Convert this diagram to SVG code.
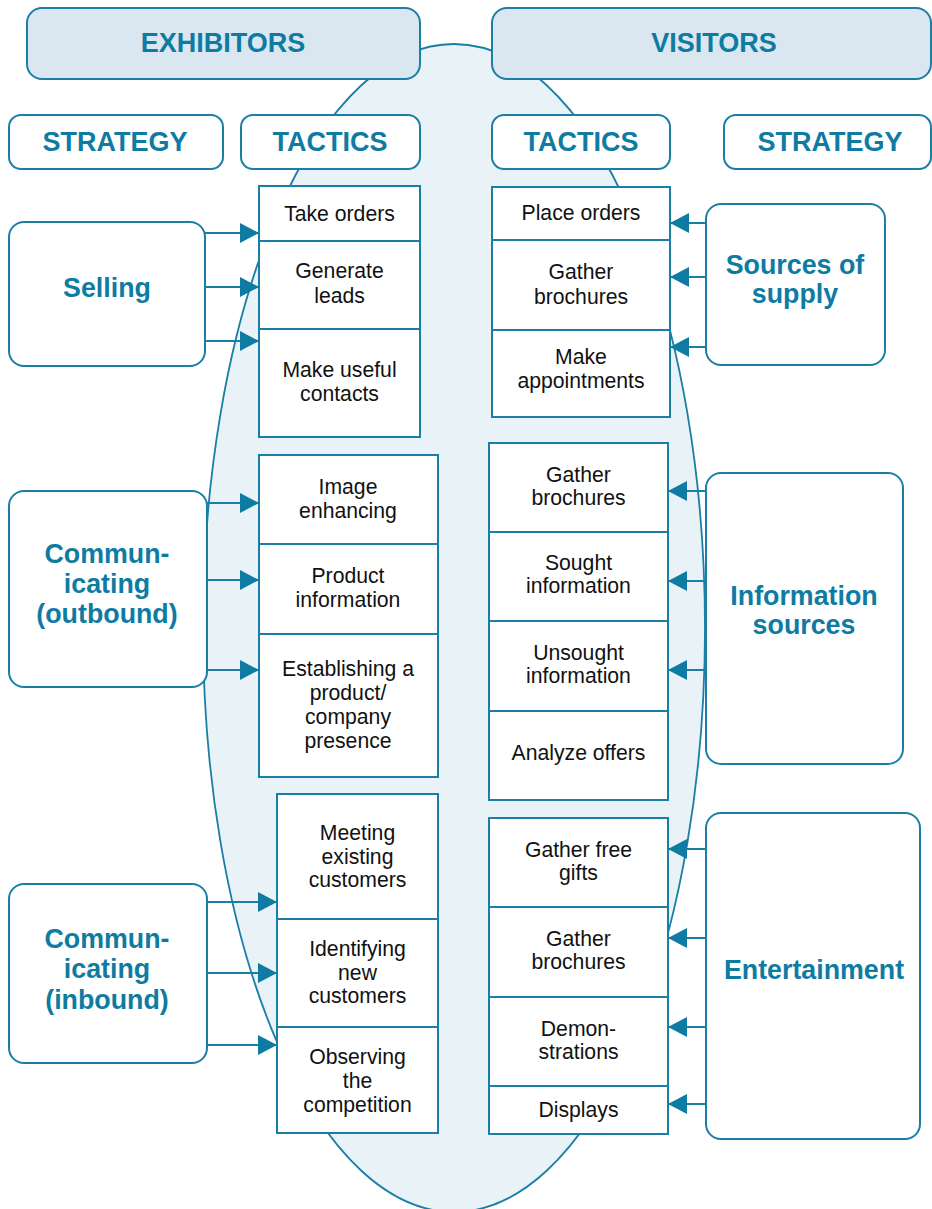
<svg xmlns="http://www.w3.org/2000/svg" width="932" height="1209" viewBox="0 0 932 1209">
<style>
.hdr{fill:#DAE7F0;stroke:#1A7EA6;stroke-width:2}
.box{fill:#fff;stroke:#1A7EA6;stroke-width:2}
.cell{fill:#fff;stroke:#1A7EA6;stroke-width:2}
.ht{font-family:"Liberation Sans",Arial,sans-serif;font-weight:bold;font-size:27px;fill:#0E7BA3;text-anchor:middle}
.st{font-family:"Liberation Sans",Arial,sans-serif;font-weight:bold;font-size:26.8px;fill:#0E7BA3;text-anchor:middle}
.tt{font-family:"Liberation Sans",Arial,sans-serif;font-size:21.2px;fill:#111;text-anchor:middle}
.conn line{stroke:#1A7EA6;stroke-width:2}
</style>
<defs>
<marker id="ah" markerUnits="userSpaceOnUse" markerWidth="21" markerHeight="21" refX="19" refY="10" orient="auto">
<path d="M0,0 L19,10 L0,20 Z" fill="#0E7BA3"/>
</marker>
</defs>
<rect width="932" height="1209" fill="#fff"/>
<ellipse id="oval" cx="454" cy="628" rx="251" ry="584" fill="#E9F2F7" stroke="#1A7EA6" stroke-width="1.8"/>

<g id="exhibitors"><rect class="hdr" x="27" y="8" width="393" height="71" rx="15"/><text class="ht" x="223" y="52">EXHIBITORS</text></g>
<g id="visitors"><rect class="hdr" x="492" y="8" width="439" height="71" rx="15"/><text class="ht" x="714" y="52">VISITORS</text></g>
<g id="strategy-left"><rect class="box" x="9" y="115" width="214" height="54" rx="12"/><text class="ht" x="115" y="151">STRATEGY</text></g>
<g id="tactics-left"><rect class="box" x="241" y="115" width="179" height="54" rx="12"/><text class="ht" x="330" y="151">TACTICS</text></g>
<g id="tactics-right"><rect class="box" x="492" y="115" width="178" height="54" rx="12"/><text class="ht" x="581" y="151">TACTICS</text></g>
<g id="strategy-right"><rect class="box" x="724" y="115" width="207" height="54" rx="12"/><text class="ht" x="830" y="151">STRATEGY</text></g>

<g id="selling"><rect class="box" x="9" y="222" width="196" height="144" rx="15"/><text class="st" x="107" y="297">Selling</text></g>
<g id="comm-out"><rect class="box" x="9" y="491" width="198" height="196" rx="15"/><text class="st"><tspan x="107" y="563">Commun-</tspan><tspan x="107" y="593">icating</tspan><tspan x="107" y="623">(outbound)</tspan></text></g>
<g id="comm-in"><rect class="box" x="9" y="884" width="198" height="179" rx="15"/><text class="st"><tspan x="107" y="948">Commun-</tspan><tspan x="107" y="978">icating</tspan><tspan x="107" y="1009">(inbound)</tspan></text></g>
<g id="sources"><rect class="box" x="706" y="204" width="179" height="161" rx="15"/><text class="st"><tspan x="795" y="274">Sources of</tspan><tspan x="795" y="303">supply</tspan></text></g>
<g id="info"><rect class="box" x="706" y="473" width="197" height="291" rx="15"/><text class="st"><tspan x="804" y="605">Information</tspan><tspan x="804" y="634">sources</tspan></text></g>
<g id="entertainment"><rect class="box" x="706" y="813" width="214" height="326" rx="15"/><text class="st" x="814" y="979">Entertainment</text></g>

<g id="selling-tactics">
<rect class="cell" x="259" y="186" width="161" height="55"/><text class="tt" x="339.5" y="221">Take orders</text>
<rect class="cell" x="259" y="241" width="161" height="88"/><text class="tt"><tspan x="339.5" y="278">Generate</tspan><tspan x="339.5" y="303">leads</tspan></text>
<rect class="cell" x="259" y="329" width="161" height="108"/><text class="tt"><tspan x="339.5" y="377">Make useful</tspan><tspan x="339.5" y="401">contacts</tspan></text>
</g>
<g id="sources-tactics">
<rect class="cell" x="492" y="187" width="178" height="53"/><text class="tt" x="581" y="220">Place orders</text>
<rect class="cell" x="492" y="240" width="178" height="90"/><text class="tt"><tspan x="581" y="279">Gather</tspan><tspan x="581" y="304">brochures</tspan></text>
<rect class="cell" x="492" y="330" width="178" height="87"/><text class="tt"><tspan x="581" y="364">Make</tspan><tspan x="581" y="388">appointments</tspan></text>
</g>
<g id="outbound-tactics">
<rect class="cell" x="259" y="455" width="179" height="89"/><text class="tt"><tspan x="348" y="494">Image</tspan><tspan x="348" y="518">enhancing</tspan></text>
<rect class="cell" x="259" y="544" width="179" height="90"/><text class="tt"><tspan x="348" y="583">Product</tspan><tspan x="348" y="607">information</tspan></text>
<rect class="cell" x="259" y="634" width="179" height="143"/><text class="tt"><tspan x="348" y="676">Establishing a</tspan><tspan x="348" y="700">product/</tspan><tspan x="348" y="724">company</tspan><tspan x="348" y="748">presence</tspan></text>
</g>
<g id="info-tactics">
<rect class="cell" x="489" y="443" width="179" height="89"/><text class="tt"><tspan x="578.5" y="482">Gather</tspan><tspan x="578.5" y="505">brochures</tspan></text>
<rect class="cell" x="489" y="532" width="179" height="89"/><text class="tt"><tspan x="578.5" y="570">Sought</tspan><tspan x="578.5" y="593">information</tspan></text>
<rect class="cell" x="489" y="621" width="179" height="90"/><text class="tt"><tspan x="578.5" y="660">Unsought</tspan><tspan x="578.5" y="683">information</tspan></text>
<rect class="cell" x="489" y="711" width="179" height="89"/><text class="tt" x="578.5" y="760">Analyze offers</text>
</g>
<g id="inbound-tactics">
<rect class="cell" x="277" y="794" width="161" height="125"/><text class="tt"><tspan x="357.5" y="840">Meeting</tspan><tspan x="357.5" y="864">existing</tspan><tspan x="357.5" y="887">customers</tspan></text>
<rect class="cell" x="277" y="919" width="161" height="108"/><text class="tt"><tspan x="357.5" y="956">Identifying</tspan><tspan x="357.5" y="980">new</tspan><tspan x="357.5" y="1003">customers</tspan></text>
<rect class="cell" x="277" y="1027" width="161" height="106"/><text class="tt"><tspan x="357.5" y="1064">Observing</tspan><tspan x="357.5" y="1088">the</tspan><tspan x="357.5" y="1112">competition</tspan></text>
</g>
<g id="entertainment-tactics">
<rect class="cell" x="489" y="818" width="179" height="89"/><text class="tt"><tspan x="578.5" y="857">Gather free</tspan><tspan x="578.5" y="880">gifts</tspan></text>
<rect class="cell" x="489" y="907" width="179" height="90"/><text class="tt"><tspan x="578.5" y="946">Gather</tspan><tspan x="578.5" y="969">brochures</tspan></text>
<rect class="cell" x="489" y="997" width="179" height="89"/><text class="tt"><tspan x="578.5" y="1036">Demon-</tspan><tspan x="578.5" y="1059">strations</tspan></text>
<rect class="cell" x="489" y="1086" width="179" height="48"/><text class="tt" x="578.5" y="1117">Displays</text>
</g>

<g id="connectors" class="conn">
<line x1="205" y1="233" x2="259" y2="233" marker-end="url(#ah)"/>
<line x1="205" y1="287" x2="259" y2="287" marker-end="url(#ah)"/>
<line x1="205" y1="341" x2="259" y2="341" marker-end="url(#ah)"/>
<line x1="207" y1="503" x2="259" y2="503" marker-end="url(#ah)"/>
<line x1="207" y1="580" x2="259" y2="580" marker-end="url(#ah)"/>
<line x1="207" y1="670" x2="259" y2="670" marker-end="url(#ah)"/>
<line x1="207" y1="902" x2="277" y2="902" marker-end="url(#ah)"/>
<line x1="207" y1="973" x2="277" y2="973" marker-end="url(#ah)"/>
<line x1="207" y1="1045" x2="277" y2="1045" marker-end="url(#ah)"/>
<line x1="706" y1="223" x2="670" y2="223" marker-end="url(#ah)"/>
<line x1="706" y1="277" x2="670" y2="277" marker-end="url(#ah)"/>
<line x1="706" y1="347" x2="670" y2="347" marker-end="url(#ah)"/>
<line x1="706" y1="491" x2="668" y2="491" marker-end="url(#ah)"/>
<line x1="706" y1="581" x2="668" y2="581" marker-end="url(#ah)"/>
<line x1="706" y1="670" x2="668" y2="670" marker-end="url(#ah)"/>
<line x1="706" y1="849" x2="668" y2="849" marker-end="url(#ah)"/>
<line x1="706" y1="938" x2="668" y2="938" marker-end="url(#ah)"/>
<line x1="706" y1="1027" x2="668" y2="1027" marker-end="url(#ah)"/>
<line x1="706" y1="1104" x2="668" y2="1104" marker-end="url(#ah)"/>
</g>
</svg>
